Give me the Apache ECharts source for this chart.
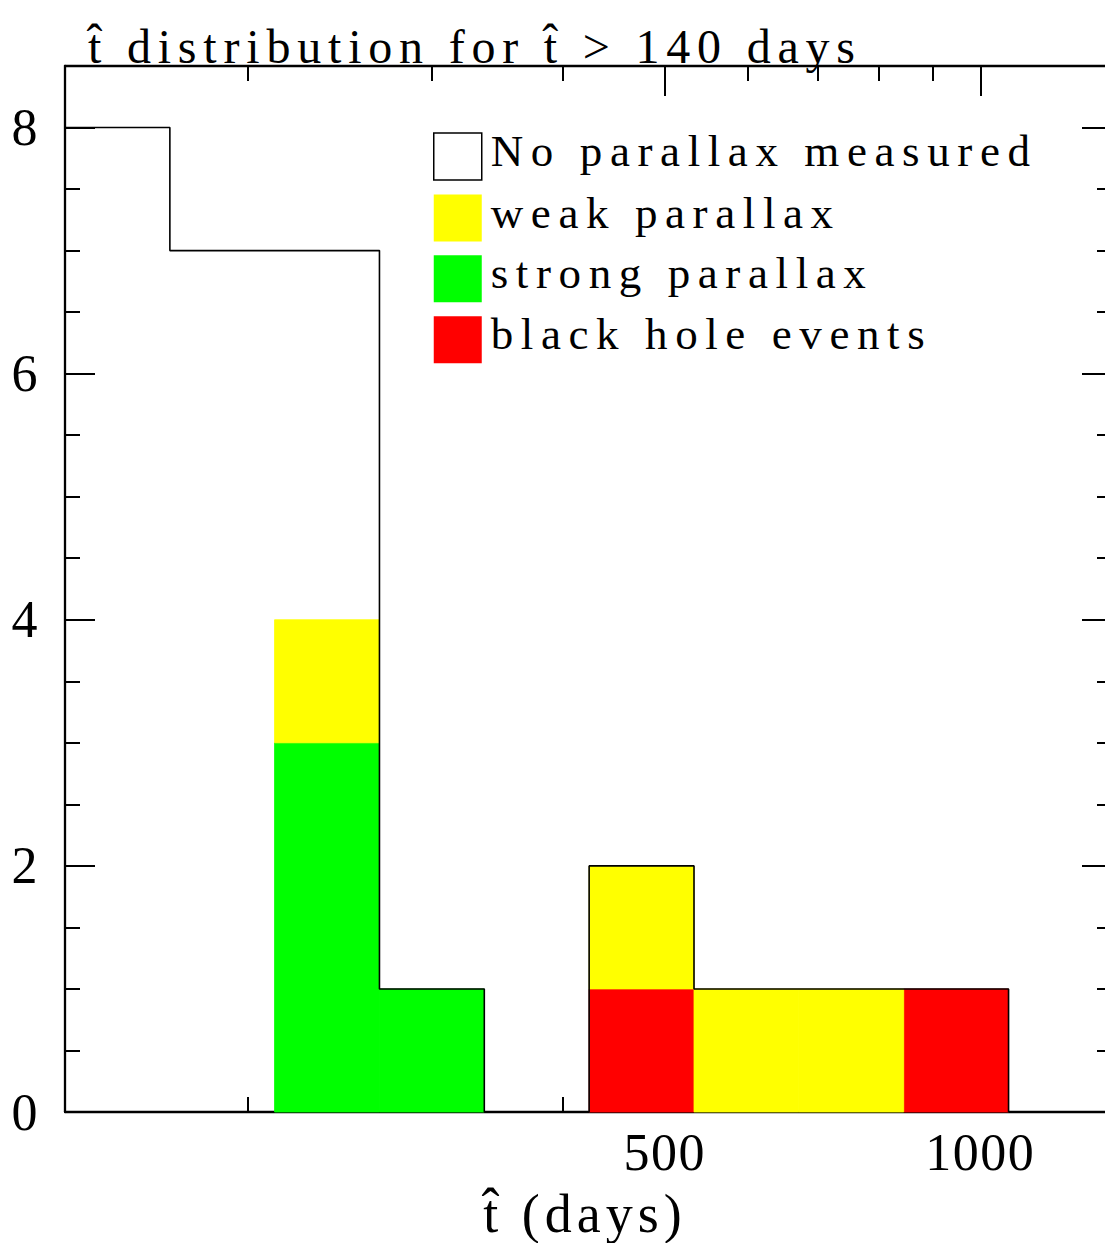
<!DOCTYPE html>
<html>
<head>
<meta charset="utf-8">
<script src="https://cdn.jsdelivr.net/npm/echarts@6/dist/echarts.min.js"></script>
<style>
html,body{margin:0;padding:0;background:#fff;}
#chart{width:1105px;height:1243px;}
#chart text{letter-spacing:6.8px;}
#chart text[style*="45px"]{letter-spacing:7.6px;}
#chart text[style*="52px"]{letter-spacing:1.5px;}
#chart text[style*="54px"]{letter-spacing:5px;}
</style>
</head>
<body>
<div id="chart"></div>
<script>
// ---- data ----
// histogram bin edges (days, logarithmic bins)
const binEdges = [134, 168.7, 212.3, 267.3, 336.5, 423.6, 533.3, 671.4, 845.2, 1064];
// counts per bin
const totalCounts     = [8, 7, 7, 1, 0, 2, 1, 1, 1];
const weakCounts      = [0, 0, 1, 0, 0, 1, 1, 1, 0];
const strongCounts    = [0, 0, 3, 1, 0, 0, 0, 0, 0];
const blackHoleCounts = [0, 0, 0, 0, 0, 1, 0, 0, 1];
// axis ranges and ticks
const xRange = [134, 1315];
const xMajorTicks = [500, 1000];
const xMinorTicks = [200, 300, 400, 600, 700, 800, 900];
const yRange = [0, 8.5];
const yMajorTicks = [0, 2, 4, 6, 8];
const yMinorTicks = [0.5, 1, 1.5, 2.5, 3, 3.5, 4.5, 5, 5.5, 6.5, 7, 7.5];
const seriesNames = ['No parallax measured', 'weak parallax', 'strong parallax', 'black hole events'];
const colors = {weak: '#ffff00', strong: '#00ff00', bh: '#ff0000'};

const L = v => Math.log10(v);
const FONT = 'Liberation Serif';

// stacking: black hole bottom, strong, weak on top
const bhLow = blackHoleCounts.map(() => 0);
const bhHigh = blackHoleCounts.map((v, i) => bhLow[i] + v);
const stLow = bhHigh.slice();
const stHigh = strongCounts.map((v, i) => stLow[i] + v);
const wkLow = stHigh.slice();
const wkHigh = weakCounts.map((v, i) => wkLow[i] + v);

function rectSeries(name, color, lows, highs) {
  const data = [];
  for (let i = 0; i < highs.length; i++) {
    if (highs[i] > lows[i]) data.push([L(binEdges[i]), L(binEdges[i + 1]), lows[i], highs[i]]);
  }
  return {
    type: 'custom', name, data, z: 2,
    xAxisIndex: 0, yAxisIndex: 0,
    encode: {x: [0, 1], y: [2, 3]},
    itemStyle: {color},
    renderItem: (params, api) => {
      const p0 = api.coord([api.value(0), api.value(2)]);
      const p1 = api.coord([api.value(1), api.value(3)]);
      return {
        type: 'rect',
        shape: {x: p0[0], y: p1[1], width: p1[0] - p0[0], height: p0[1] - p1[1]},
        style: {fill: color, stroke: color, lineWidth: 0.8}
      };
    }
  };
}

const outline = [[L(binEdges[0]), 0]];
totalCounts.forEach((v, i) => outline.push([L(binEdges[i]), v]));
outline.push([L(binEdges[binEdges.length - 1]), 0]);

const axisLineStyle = {color: '#000', width: 2.3};
const tickStyle = {color: '#000', width: 2};

function xAxisDef(pos, ticks, len, showLine, showLabel) {
  const a = {
    type: 'value', position: pos, min: L(xRange[0]), max: L(xRange[1]),
    axisLine: {show: showLine, onZero: false, lineStyle: axisLineStyle},
    axisTick: {show: true, inside: true, length: len, customValues: ticks.map(L), lineStyle: tickStyle},
    axisLabel: {show: false},
    splitLine: {show: false}
  };
  if (showLabel) {
    a.axisLabel = {
      show: true, customValues: ticks.map(L), margin: 14,
      formatter: v => String(Math.round(Math.pow(10, v))),
      fontSize: 52, fontFamily: FONT, color: '#000'
    };
    a.name = 't\u0302 (days)';
    a.nameLocation = 'middle';
    a.nameGap = 75;
    a.nameTextStyle = {fontSize: 54, fontFamily: FONT, color: '#000'};
  }
  return a;
}
function yAxisDef(pos, ticks, len, showLine, showLabel) {
  const a = {
    type: 'value', position: pos, min: yRange[0], max: yRange[1],
    axisLine: {show: showLine, onZero: false, lineStyle: axisLineStyle},
    axisTick: {show: true, inside: true, length: len, customValues: ticks, lineStyle: tickStyle},
    axisLabel: {show: false},
    splitLine: {show: false}
  };
  if (showLabel) {
    a.axisLabel = {show: true, customValues: ticks, margin: 26, fontSize: 52, fontFamily: FONT, color: '#000',
      formatter: v => String(v)};
  }
  return a;
}

const chart = echarts.init(document.getElementById('chart'), null, {renderer: 'svg'});
chart.setOption({
  animation: false,
  backgroundColor: '#fff',
  title: {
    text: 't\u0302 distribution for t\u0302 > 140 days',
    left: 88, top: 22, padding: 0,
    textStyle: {fontSize: 48, fontWeight: 'normal', fontFamily: FONT, color: '#000'}
  },
  legend: {
    orient: 'vertical', left: 433, top: 128.5, padding: 0,
    itemWidth: 48, itemHeight: 47, itemGap: 9.3, selectedMode: false,
    formatter: name => '{a|' + name + '}',
    textStyle: {
      fontSize: 45, fontFamily: FONT, color: '#000',
      rich: {a: {fontSize: 45, fontFamily: FONT, color: '#000', padding: [0, 0, 11, 4]}}
    },
    data: [
      {name: seriesNames[0], icon: 'rect', itemStyle: {color: '#fff', borderColor: '#000', borderWidth: 1.5}},
      {name: seriesNames[1], icon: 'rect', itemStyle: {color: colors.weak}},
      {name: seriesNames[2], icon: 'rect', itemStyle: {color: colors.strong}},
      {name: seriesNames[3], icon: 'rect', itemStyle: {color: colors.bh}}
    ]
  },
  grid: {left: 65, top: 66, right: 0, bottom: 131, containLabel: false, outerBoundsMode: 'none'},
  xAxis: [
    xAxisDef('bottom', xMajorTicks, 30, true, true),
    xAxisDef('bottom', xMinorTicks, 15, false, false),
    xAxisDef('top', xMajorTicks, 30, true, false),
    xAxisDef('top', xMinorTicks, 15, false, false)
  ],
  yAxis: [
    yAxisDef('left', yMajorTicks, 30, true, true),
    yAxisDef('left', yMinorTicks, 15, false, false),
    yAxisDef('right', yMajorTicks, 23, false, false),
    yAxisDef('right', yMinorTicks, 8, false, false)
  ],
  series: [
    rectSeries(seriesNames[3], colors.bh, bhLow, bhHigh),
    rectSeries(seriesNames[2], colors.strong, stLow, stHigh),
    rectSeries(seriesNames[1], colors.weak, wkLow, wkHigh),
    {
      type: 'line', name: seriesNames[0], data: outline, step: 'end',
      xAxisIndex: 0, yAxisIndex: 0, z: 5,
      showSymbol: false, symbol: 'none',
      itemStyle: {color: '#000'},
      lineStyle: {color: '#000', width: 1.6}
    }
  ]
});
</script>
</body>
</html>
